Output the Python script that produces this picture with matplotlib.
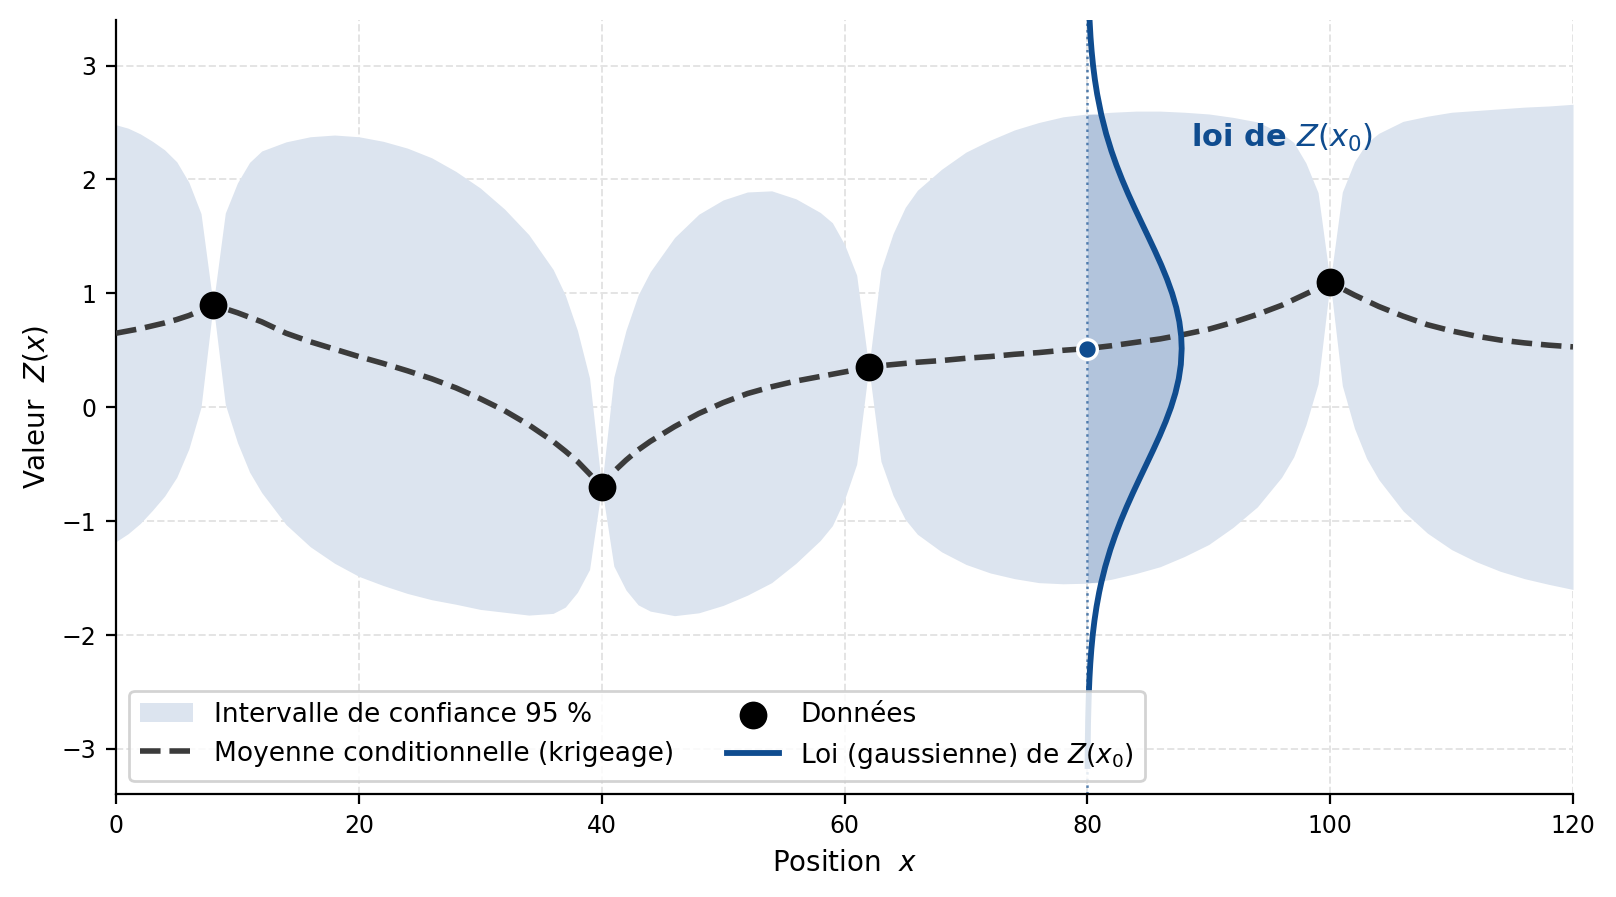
import numpy as np
import matplotlib
matplotlib.use("Agg")
import matplotlib.pyplot as plt

# positions / valeurs
obs_x = [8, 40, 62, 100]
obs_z = [0.90, -0.70, 0.35, 1.10]

grid_x = [0, 1, 2, 3, 4, 5, 6, 7, 8,
          9, 10, 11, 12, 14, 16, 18, 20, 22, 24, 26, 28, 30, 32, 34, 36, 37, 38, 39, 40,
          41, 42, 43, 44, 46, 48, 50, 52, 54, 56, 58, 59, 60, 61, 62,
          63, 64, 65, 66, 68, 70, 72, 74, 76, 78, 80, 82, 84, 86, 88, 90, 92, 94, 96, 97, 98, 99, 100,
          101, 102, 103, 104, 106, 108, 110, 112, 114, 116, 118, 120]

krig_mean = [0.65, 0.67, 0.69, 0.715, 0.74, 0.77, 0.805, 0.85, 0.90,
             0.865, 0.83, 0.79, 0.75, 0.65, 0.575, 0.51, 0.445, 0.385, 0.32, 0.25, 0.17, 0.075, -0.03,
             -0.155, -0.30, -0.385, -0.475, -0.585, -0.70,
             -0.565, -0.465, -0.375, -0.30, -0.17, -0.055, 0.04, 0.12, 0.18, 0.23, 0.27, 0.29, 0.31, 0.33, 0.35,
             0.365, 0.375, 0.385, 0.395, 0.41, 0.43, 0.445, 0.465, 0.48, 0.50, 0.515, 0.54, 0.57, 0.60,
             0.64, 0.685, 0.745, 0.815, 0.895, 0.945, 0.995, 1.045, 1.10,
             1.04, 0.985, 0.935, 0.885, 0.80, 0.725, 0.67, 0.625, 0.59, 0.565, 0.545, 0.53]

# demi-largeur de l'intervalle a 95 %
half_width = [1.83, 1.78, 1.71, 1.62, 1.52, 1.385, 1.17, 0.85, 0.0,
              0.84, 1.14, 1.36, 1.50, 1.68, 1.80, 1.88, 1.93, 1.95, 1.955, 1.94, 1.90, 1.85, 1.77,
              1.67, 1.51, 1.37, 1.15, 0.84, 0.0,
              0.83, 1.14, 1.36, 1.49, 1.66, 1.75, 1.78, 1.77, 1.72, 1.60, 1.44, 1.33, 1.12, 0.83, 0.0,
              0.84, 1.15, 1.37, 1.51, 1.68, 1.81, 1.90, 1.97, 2.02, 2.05, 2.06, 2.05, 2.03, 2.00,
              1.95, 1.89, 1.80, 1.69, 1.51, 1.38, 1.15, 0.84, 0.0,
              0.85, 1.17, 1.385, 1.52, 1.71, 1.83, 1.92, 1.98, 2.03, 2.07, 2.10, 2.13]

# loi de Z(x0) en x0 = 80 (courbe couchee, largeur en unites de x)
x0 = 80
z0 = 0.515
ic_lo, ic_hi = -1.54, 2.57
gauss_z = [-3.15, -3.0, -2.75, -2.5, -2.375, -2.25, -2.125, -2.0, -1.875, -1.75, -1.625,
           -1.54, -1.4, -1.25, -1.125, -1.0, -0.875, -0.75, -0.625, -0.5, -0.375, -0.25,
           -0.125, 0.0, 0.125, 0.25, 0.375, 0.515, 0.625, 0.75, 0.875, 1.0, 1.125, 1.25,
           1.375, 1.5, 1.625, 1.75, 1.875, 2.0, 2.125, 2.25, 2.4, 2.57, 2.75, 2.875, 3.0,
           3.125, 3.25, 3.45]
gauss_w = [0.018, 0.029, 0.062, 0.126, 0.176, 0.243, 0.330, 0.441, 0.583, 0.758, 0.973,
           1.145, 1.472, 1.892, 2.295, 2.744, 3.236, 3.761, 4.310, 4.870, 5.425, 5.959,
           6.453, 6.890, 7.252, 7.527, 7.701, 7.77, 7.727, 7.578, 7.326, 6.984, 6.563, 6.082,
           5.556, 5.004, 4.444, 3.891, 3.358, 2.858, 2.398, 1.984, 1.551, 1.145, 0.807, 0.622, 0.472,
           0.354, 0.261, 0.156]

band_col = "#dce4ef"
blue = "#0f4c8f"

gx = np.array(grid_x)
gm = np.array(krig_mean)
hw = np.array(half_width)
gz = np.array(gauss_z)
gw = x0 + np.array(gauss_w)

fig, ax = plt.subplots(figsize=(8.08, 4.485), dpi=200)
fig.subplots_adjust(left=0.0718, right=0.9734, bottom=0.1143, top=0.9777)

ax.fill_between(gx, gm - hw, gm + hw, color=band_col, lw=0, zorder=1,
                label="Intervalle de confiance 95 %")
ax.plot(gx, gm, ls="--", color="#3b3b3b", lw=2.0, zorder=3,
        label="Moyenne conditionnelle (krigeage)")

ax.axvline(x0, color=blue, ls=":", lw=0.9, alpha=0.7, zorder=2)
inside = (gz >= ic_lo) & (gz <= ic_hi)
ax.fill_betweenx(gz, x0, gw, where=inside, color="#7f9ec6", alpha=0.45, lw=0, zorder=2)
ax.plot(gw, gz, color=blue, lw=2.1, zorder=4, solid_joinstyle="round",
        label="Loi (gaussienne) de $Z(x_0)$")

ax.scatter(obs_x, obs_z, s=100, color="black", lw=0, zorder=5, label="Données")
ax.scatter([x0], [z0], s=50, color=blue, edgecolor="white", linewidth=1.2, zorder=6)

ax.text(88.5, 2.29, "loi de $Z(x_0)$", color=blue, fontsize=11, fontweight="bold",
        ha="left", va="baseline")

ax.set_xlim(0, 120)
ax.set_ylim(-3.4, 3.4)
ax.set_xticks(range(0, 121, 20))
ax.set_yticks(range(-3, 4))
ax.tick_params(labelsize=8.5)
ax.set_xlabel("Position  $x$", fontsize=10)
ax.set_ylabel("Valeur  $Z(x)$", fontsize=10)
ax.grid(True, ls="--", color="#e4e4e4", lw=0.7)
ax.set_axisbelow(True)
for s in ["top", "right"]:
    ax.spines[s].set_visible(False)

h, l = ax.get_legend_handles_labels()
order = [0, 1, 3, 2]
leg = ax.legend([h[i] for i in order], [l[i] for i in order], loc="lower left", ncol=2,
                fontsize=9.5, framealpha=0.85)
leg.set_zorder(10)

fig.savefig("out.png", dpi=200)
